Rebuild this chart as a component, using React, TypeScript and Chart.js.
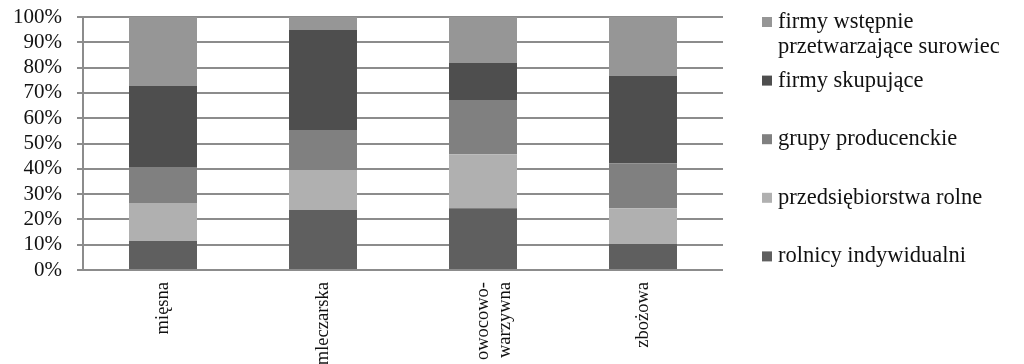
import React, { useEffect, useRef } from 'react';
import { Chart, registerables } from 'chart.js';

Chart.register(...registerables);

const categories: (string | string[])[] = ['mięsna', 'mleczarska', ['owocowo-', 'warzywna'], 'zbożowa'];

const seriesNames = [
  'rolnicy indywidualni',
  'przedsiębiorstwa rolne',
  'grupy producenckie',
  'firmy skupujące',
  'firmy wstępnie przetwarzające surowiec',
];

const legendLines: string[][] = [
  ['rolnicy indywidualni'],
  ['przedsiębiorstwa rolne'],
  ['grupy producenckie'],
  ['firmy skupujące'],
  ['firmy wstępnie', 'przetwarzające surowiec'],
];

const rolnicy = [11.5, 23.7, 24.4, 10.3];
const przedsiebiorstwa = [15.0, 15.8, 21.4, 14.1];
const grupy = [14.2, 15.8, 21.4, 17.8];
const skupujace = [32.0, 39.6, 14.6, 34.6];
const wstepnie = [27.3, 5.1, 18.2, 23.2];

const seriesValues = [rolnicy, przedsiebiorstwa, grupy, skupujace, wstepnie];
const seriesColors = ['#5f5f5f', '#b0b0b0', '#808080', '#4e4e4e', '#969696'];

const yTicks = [0, 10, 20, 30, 40, 50, 60, 70, 80, 90, 100];

const FONT = "'Liberation Serif', 'Times New Roman', serif";

const sideLegend = {
  id: 'sideLegend',
  afterDraw(chart: any) {
    const ctx = chart.ctx as CanvasRenderingContext2D;
    const area = chart.chartArea;
    const boxX = area.right + 39;
    const textX = boxX + 16;
    const firstCenter = area.top + 5;
    const step = 58.6;
    const lineGap = 25;
    const n = chart.data.datasets.length;
    ctx.save();
    ctx.font = `22.5px ${FONT}`;
    ctx.textBaseline = 'middle';
    ctx.textAlign = 'left';
    for (let k = 0; k < n; k++) {
      const idx = n - 1 - k;
      const ds = chart.data.datasets[idx];
      const cy = firstCenter + k * step;
      ctx.fillStyle = ds.backgroundColor;
      ctx.fillRect(boxX, cy - 5, 10, 10);
      ctx.fillStyle = '#111';
      const lines = legendLines[idx];
      lines.forEach((ln, j) => {
        ctx.fillText(ln, textX, cy + j * lineGap);
      });
    }
    ctx.restore();
  },
};

export default function App() {
  const ref = useRef<HTMLCanvasElement | null>(null);

  useEffect(() => {
    if (!ref.current) return;
    const chart = new Chart(ref.current, {
      type: 'bar',
      data: {
        labels: categories as any,
        datasets: seriesNames.map((name, i) => ({
          label: name,
          data: seriesValues[i],
          backgroundColor: seriesColors[i],
          borderWidth: 0,
          categoryPercentage: 1,
          barPercentage: 0.425,
        })),
      },
      options: {
        animation: false,
        responsive: false,
        maintainAspectRatio: false,
        layout: { padding: { top: 17, right: 301, left: 0, bottom: 0 } },
        plugins: {
          legend: { display: false },
          tooltip: { enabled: false },
        },
        scales: {
          x: {
            stacked: true,
            grid: { display: false, drawTicks: false },
            border: { display: false },
            ticks: {
              maxRotation: 90,
              minRotation: 90,
              padding: 12,
              color: '#111',
              font: { family: FONT, size: 18.5 },
            },
            afterFit: (s: any) => {
              s.height = 94;
              s.paddingLeft = 0;
              s.paddingRight = 0;
            },
          },
          y: {
            stacked: true,
            min: 0,
            max: 100,
            afterBuildTicks: (s: any) => {
              s.ticks = yTicks.map((v) => ({ value: v }));
            },
            grid: { color: '#8c8c8c', lineWidth: 2, tickLength: 6, drawTicks: true },
            border: { display: true, color: '#8c8c8c', width: 2 },
            ticks: {
              autoSkip: false,
              padding: 15,
              color: '#111',
              font: { family: FONT, size: 21 },
              callback: (v: any) => `${v}%`,
            },
            afterFit: (s: any) => {
              s.width = 83;
              s.paddingTop = 0;
              s.paddingBottom = 0;
            },
          },
        },
      },
      plugins: [sideLegend],
    });
    return () => chart.destroy();
  }, []);

  return (
    <div style={{ position: 'fixed', left: 0, top: 0, width: 1024, height: 364, background: '#fff' }}>
      <canvas ref={ref} width={1024} height={364} />
    </div>
  );
}
